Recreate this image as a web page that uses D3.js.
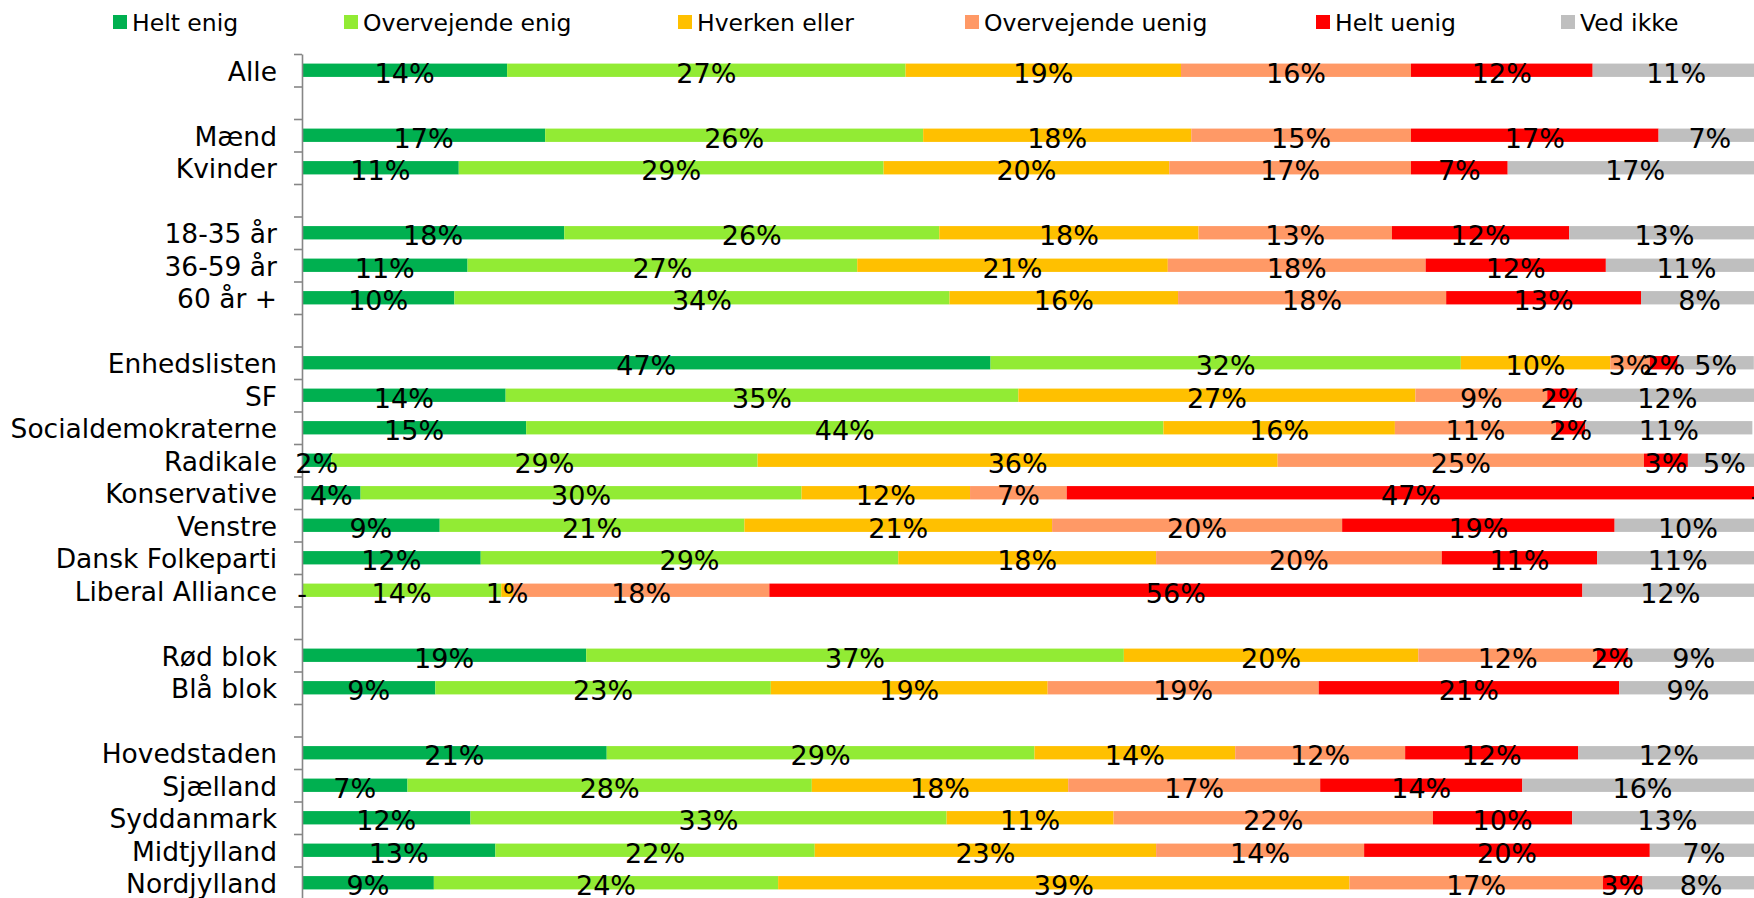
<!DOCTYPE html>
<html><head><meta charset="utf-8">
<script src="https://cdn.jsdelivr.net/npm/d3@7"></script>
<style>body{margin:0;background:#fff}svg{display:block}text{font-family:"DejaVu Sans",Verdana,sans-serif;fill:#000}</style>
</head><body><svg id="c" width="1754" height="898"></svg>
<script>
// ---- data ----
const categories = ["Alle","","Mænd","Kvinder","","18-35 år","36-59 år","60 år +","",
  "Enhedslisten","SF","Socialdemokraterne","Radikale","Konservative","Venstre","Dansk Folkeparti","Liberal Alliance","",
  "Rød blok","Blå blok","","Hovedstaden","Sjælland","Syddanmark","Midtjylland","Nordjylland"];
const seriesNames = ["Helt enig","Overvejende enig","Hverken eller","Overvejende uenig","Helt uenig","Ved ikke"];
const heltEnig        = [14.0,null,16.6,10.7,null,17.9,11.3,10.4,null,47.0,13.9,15.3, 2.0, 4.0, 9.4,12.2, 0.0,null,19.4, 9.1,null,20.8, 7.2,11.5,13.2, 9.0];
const overvejendeEnig = [27.2,null,25.8,29.0,null,25.6,26.6,33.8,null,32.1,35.0,43.5,29.1,30.1,20.8,28.5,13.6,null,36.7,22.9,null,29.2,27.6,32.5,21.8,23.5];
const hverkenEller    = [18.8,null,18.3,19.5,null,17.7,21.2,15.6,null,10.2,27.1,15.8,35.5,11.5,21.0,17.6, 0.8,null,20.1,18.9,null,13.7,17.5,11.4,23.3,39.0];
const overvejendeUenig= [15.7,null,15.0,16.5,null,13.2,17.6,18.3,null, 2.7, 9.0,11.0,25.0, 6.6,19.8,19.5,17.5,null,12.2,18.5,null,11.6,17.2,21.8,14.2,17.3];
const heltUenig       = [12.4,null,16.9, 6.6,null,12.1,12.3,13.3,null, 1.9, 2.0, 2.0, 3.0,47.0,18.6,10.6,55.5,null, 2.1,20.5,null,11.8,13.8, 9.5,19.5, 2.7];
const vedIkke         = [11.4,null, 7.0,17.4,null,13.0,11.0, 8.0,null, 5.2,12.4,11.4, 5.0, 0.0,10.0,11.0,12.0,null, 9.0, 9.4,null,12.4,16.4,13.0, 7.4, 8.0];
const seriesValues = [heltEnig, overvejendeEnig, hverkenEller, overvejendeUenig, heltUenig, vedIkke];
const colors = ["#00B050","#92EB34","#FFC000","#FF9966","#FF0000","#BFBFBF"];

// ---- layout ----
const axisX = 302, plotTop = 54, plotBottom = 899, pctWidth = 14.65;
const catFont = 26.5, dataFont = 27, legendFont = 23.5;
const legendX = [113, 344, 678, 965, 1316, 1561];

const svg = d3.select("#c");
const rows = categories.map((c,i)=>{
  const o = {idx:i, name:c, empty: heltEnig[i]===null};
  seriesNames.forEach((s,k)=>{ o[s] = seriesValues[k][i] ?? 0; });
  return o;
});

const x = d3.scaleLinear().domain([0,100]).range([axisX, axisX + 100*pctWidth]);
const y = d3.scaleBand().domain(d3.range(categories.length)).range([plotTop, plotBottom]);
const yEdge = d3.scaleLinear().domain([0, categories.length]).range([plotTop, plotBottom]);
const barH = y.bandwidth()*0.41;

const stack = d3.stack().keys(seriesNames)(rows);

const gBars = svg.append("g");
stack.forEach((layer,k)=>{
  gBars.append("g").attr("fill", colors[k])
    .selectAll("rect").data(layer.filter(d=>!d.data.empty)).join("rect")
    .attr("x", d=>x(d[0]))
    .attr("width", d=>Math.max(0, x(d[1])-x(d[0])))
    .attr("y", d=>y(d.data.idx) + (y.bandwidth()-barH)/2)
    .attr("height", barH);
});

// axis with tick marks at category boundaries
const axisG = svg.append("g").attr("transform",`translate(${axisX},0)`)
  .call(d3.axisLeft(yEdge).tickValues(d3.range(categories.length+1)).tickSize(8).tickSizeOuter(0).tickFormat(""));
axisG.selectAll("path,line").attr("stroke","#868686").attr("stroke-width",1.6);

// category labels
const labG = svg.append("g").attr("transform",`translate(${axisX},2)`)
  .call(d3.axisLeft(y).tickSize(0).tickPadding(25).tickFormat(i=>categories[i]));
labG.select(".domain").remove();
labG.selectAll("text").attr("font-size",catFont).attr("font-family",'"DejaVu Sans",Verdana,sans-serif').attr("fill","#000");

// data labels
const gLab = svg.append("g");
stack.forEach((layer,k)=>{
  gLab.selectAll(null).data(layer.filter(d=>!d.data.empty)).join("text")
    .attr("x", d=>(x(d[0])+x(d[1]))/2)
    .attr("y", d=>y(d.data.idx)+y.bandwidth()/2 + 12.5)
    .attr("text-anchor","middle")
    .attr("font-size", dataFont)
    .text(d=>{const v=seriesValues[k][d.data.idx]; return v===0 ? "-" : Math.round(v)+"%";});
});

// legend
const lg = svg.append("g");
seriesNames.forEach((s,k)=>{
  const g = lg.append("g").attr("transform",`translate(${legendX[k]},22)`);
  g.append("rect").attr("x",0).attr("y",-7).attr("width",14).attr("height",14).attr("fill",colors[k]);
  g.append("text").attr("x",19).attr("y",8.5).attr("font-size",legendFont).text(s);
});
</script></body></html>
